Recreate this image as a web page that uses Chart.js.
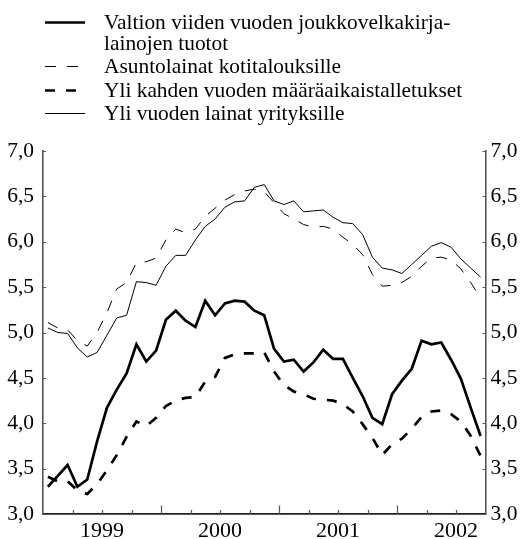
<!DOCTYPE html>
<html>
<head>
<meta charset="utf-8">
<script src="https://cdn.jsdelivr.net/npm/chart.js@4/dist/chart.umd.min.js"></script>
<style>
  html, body { margin: 0; padding: 0; background: #fff; }
  #wrap { position: relative; width: 521px; height: 539px; overflow: hidden; }
  #c { position: absolute; left: 0; top: 0; }
  #legend { position: absolute; left: 45px; top: 12px; font-family: "Liberation Serif", "Times New Roman", serif; font-size: 21.4px; line-height: 20.5px; color: #000; }
  .item { display: flex; align-items: flex-start; white-space: nowrap; margin-top: 3px; }
  .item:first-child { margin-top: 0; }
  .item svg { width: 40px; height: 20px; margin-right: 19px; flex: none; }
</style>
</head>
<body>
<div id="wrap">
  <canvas id="c" width="521" height="539"></canvas>
  <div id="legend"></div>
</div>
<script>
// Months Jan 1999 .. Sep 2002
const months = [
  '1999-01','1999-02','1999-03','1999-04','1999-05','1999-06','1999-07','1999-08','1999-09','1999-10','1999-11','1999-12',
  '2000-01','2000-02','2000-03','2000-04','2000-05','2000-06','2000-07','2000-08','2000-09','2000-10','2000-11','2000-12',
  '2001-01','2001-02','2001-03','2001-04','2001-05','2001-06','2001-07','2001-08','2001-09','2001-10','2001-11','2001-12',
  '2002-01','2002-02','2002-03','2002-04','2002-05','2002-06','2002-07','2002-08','2002-09'
];
const yearLabels = ['1999', '2000', '2001', '2002'];
const yTicks = [3.0, 3.5, 4.0, 4.5, 5.0, 5.5, 6.0, 6.5, 7.0];

const seriesNames = [
  'Valtion viiden vuoden joukkovelkakirja-\nlainojen tuotot',
  'Asuntolainat kotitalouksille',
  'Yli kahden vuoden määräaikaistalletukset',
  'Yli vuoden lainat yrityksille'
];

const govBond5y = [3.30,3.42,3.54,3.30,3.38,3.80,4.17,4.37,4.55,4.87,4.68,4.80,
  5.14,5.24,5.13,5.06,5.35,5.19,5.32,5.35,5.34,5.24,5.19,4.82,
  4.68,4.70,4.57,4.67,4.81,4.71,4.71,4.50,4.30,4.06,3.99,4.32,
  4.47,4.60,4.91,4.87,4.89,4.70,4.49,4.17,3.86];
const housingLoans = [5.11,5.05,5.03,4.91,4.85,5.00,5.22,5.48,5.55,5.77,5.78,5.82,
  6.02,6.14,6.10,6.14,6.28,6.37,6.46,6.52,6.56,6.58,6.55,6.43,
  6.31,6.25,6.19,6.16,6.17,6.14,6.05,5.97,5.86,5.64,5.51,5.52,
  5.55,5.62,5.73,5.82,5.83,5.80,5.70,5.55,5.38];
const deposits2y = [3.41,3.36,3.36,3.26,3.22,3.33,3.48,3.65,3.85,4.02,3.97,4.06,
  4.19,4.25,4.28,4.29,4.46,4.51,4.72,4.76,4.77,4.77,4.78,4.57,
  4.42,4.35,4.32,4.27,4.26,4.25,4.21,4.13,3.99,3.84,3.65,3.77,
  3.83,3.94,4.07,4.13,4.14,4.10,4.02,3.86,3.64];
const corpLoans = [5.05,5.00,4.99,4.83,4.73,4.78,4.97,5.16,5.19,5.56,5.55,5.52,
  5.73,5.85,5.85,6.02,6.17,6.25,6.38,6.44,6.45,6.60,6.63,6.45,
  6.41,6.45,6.33,6.34,6.35,6.27,6.21,6.20,6.08,5.83,5.71,5.69,
  5.65,5.75,5.85,5.95,5.99,5.94,5.81,5.71,5.61];

// each monthly value plotted at the middle of its month
const toXY = arr => arr.map((v, i) => ({ x: i + 0.5, y: v }));

const FONT = '"Liberation Serif", "Times New Roman", serif';
const AXIS_COLOR = '#555';

const tickMarks = {
  id: 'tickMarks',
  afterDraw(chart, args, opts) {
    const { ctx, chartArea: a, scales } = chart;
    const x = scales.x, y = scales.y;
    ctx.save();
    ctx.strokeStyle = opts.color;
    ctx.lineWidth = opts.width;
    ctx.beginPath();
    x.ticks.forEach(t => {
      if (t.value <= x.min || t.value >= x.max) return;
      const px = Math.round(x.getPixelForValue(t.value)) + 0.5;
      const len = (t.value % 12 === 0) ? opts.longLen : opts.shortLen;
      ctx.moveTo(px, a.bottom);
      ctx.lineTo(px, a.bottom - len);
    });
    y.ticks.forEach(t => {
      const py = Math.round(y.getPixelForValue(t.value)) + 0.5;
      ctx.moveTo(a.left, py); ctx.lineTo(a.left + opts.yLen, py);
      ctx.moveTo(a.right, py); ctx.lineTo(a.right - opts.yLen, py);
    });
    ctx.stroke();
    ctx.restore();
  }
};

const yScale = (pos, width, pad) => ({
  type: 'linear', position: pos, min: 3, max: 7,
  afterBuildTicks: s => { s.ticks = yTicks.map(v => ({ value: v })); },
  ticks: {
    padding: pad, color: '#000', font: { family: FONT, size: 21.5 },
    callback: v => v.toFixed(1).replace('.', ',')
  },
  grid: { display: false, drawTicks: false },
  border: { display: true, color: AXIS_COLOR, width: 1.6 },
  afterFit: s => { s.width = width; }
});

const chart = new Chart(document.getElementById('c'), {
  type: 'line',
  data: {
    datasets: [
      { label: seriesNames[0], data: toXY(govBond5y), borderColor: '#000', borderWidth: 2.7, borderDash: [], yAxisID: 'y' },
      { label: seriesNames[1], data: toXY(housingLoans), borderColor: '#000', borderWidth: 1, borderDash: [11, 11], yAxisID: 'y' },
      { label: seriesNames[2], data: toXY(deposits2y), borderColor: '#000', borderWidth: 2.7, borderDash: [10, 11], yAxisID: 'y' },
      { label: seriesNames[3], data: toXY(corpLoans), borderColor: '#000', borderWidth: 1, borderDash: [], yAxisID: 'y' }
    ]
  },
  options: {
    responsive: false,
    animation: false,
    devicePixelRatio: 1,
    elements: { point: { radius: 0 }, line: { tension: 0, borderCapStyle: 'butt', borderJoinStyle: 'miter', fill: false } },
    layout: { padding: { top: 151, left: 0, right: 0, bottom: 0 } },
    plugins: {
      legend: { display: false },
      tooltip: { enabled: false },
      tickMarks: { color: AXIS_COLOR, width: 1.2, shortLen: 4, longLen: 8.5, yLen: 3 }
    },
    scales: {
      x: {
        type: 'linear', min: 0, max: months.length,
        afterBuildTicks: s => {
          const t = [];
          for (let v = 0; v <= months.length; v += 3) t.push({ value: v });
          s.ticks = t;
        },
        ticks: {
          autoSkip: false, maxRotation: 0, padding: 4, color: '#000',
          font: { family: FONT, size: 22 },
          callback: v => (v % 12 === 6) ? yearLabels[(v - 6) / 12] : ''
        },
        grid: { display: false, drawTicks: false },
        border: { display: true, color: '#222', width: 1.8 },
        afterFit: s => { s.height = 25; }
      },
      y: yScale('left', 43, 9),
      y2: yScale('right', 35.5, 5)
    }
  },
  plugins: [tickMarks]
});

// HTML legend built from the chart's datasets
const legendEl = document.getElementById('legend');
chart.data.datasets.forEach(ds => {
  const item = document.createElement('div');
  item.className = 'item';
  const svgNS = 'http://www.w3.org/2000/svg';
  const svg = document.createElementNS(svgNS, 'svg');
  svg.setAttribute('viewBox', '0 0 40 20');
  const line = document.createElementNS(svgNS, 'line');
  line.setAttribute('x1', '0'); line.setAttribute('x2', '40');
  line.setAttribute('y1', '10.5'); line.setAttribute('y2', '10.5');
  line.setAttribute('stroke', ds.borderColor);
  line.setAttribute('stroke-width', ds.borderWidth);
  if (ds.borderDash && ds.borderDash.length) line.setAttribute('stroke-dasharray', ds.borderDash.join(' '));
  svg.appendChild(line);
  const txt = document.createElement('div');
  ds.label.split('\n').forEach((l, k) => {
    if (k) txt.appendChild(document.createElement('br'));
    txt.appendChild(document.createTextNode(l));
  });
  item.appendChild(svg);
  item.appendChild(txt);
  legendEl.appendChild(item);
});
</script>
</body>
</html>
